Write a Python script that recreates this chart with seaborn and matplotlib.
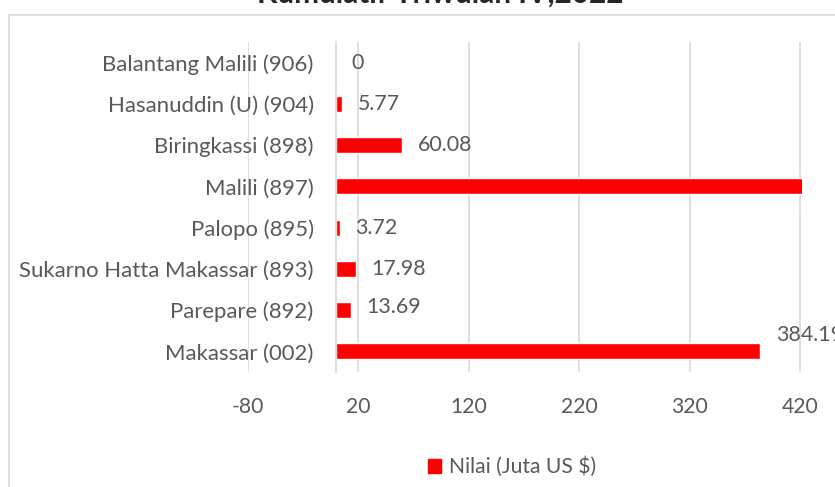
import matplotlib
matplotlib.use("Agg")
import matplotlib.pyplot as plt
import seaborn as sns
import pandas as pd
from matplotlib.patches import Patch, Rectangle

# ---- data ----
ports = ["Balantang Malili (906)", "Hasanuddin (U) (904)", "Biringkassi (898)",
         "Malili (897)", "Palopo (895)", "Sukarno Hatta Makassar (893)",
         "Parepare (892)", "Makassar (002)"]
values = [0, 5.77, 60.08, 425.0, 3.72, 17.98, 13.69, 384.19]
value_labels = ["0", "5.77", "60.08", "", "3.72", "17.98", "13.69", "384.19"]
x_ticks = [-80, 20, 120, 220, 320, 420]
title = "Kumulatif Triwulan IV,2022"
series_name = "Nilai (Juta US $)"

df = pd.DataFrame({"Pelabuhan": ports, "Nilai": values})

sns.set_theme(style="white")
FONT = ["Lato", "DejaVu Sans"]
plt.rcParams["font.family"] = FONT
plt.rcParams["axes.unicode_minus"] = False
TXT = "#595959"
GRID = "#d9d9d9"
RED = "#ff0000"

W, H = 835, 487
fig = plt.figure(figsize=(W / 100, H / 100), dpi=100)
ax = fig.add_axes([247.5 / W, 1 - 372 / H, (802 - 247.5) / W, (372 - 42) / H])

sns.barplot(data=df, y="Pelabuhan", x="Nilai", orient="h", color=RED,
            width=0.39, ax=ax, saturation=1, order=ports)

ax.set_xlim(-80, 421.8)
ax.set_xticks(x_ticks)
ax.set_xlabel("")
ax.set_ylabel("")
ax.grid(axis="x", color=GRID, lw=1.2)
ax.set_axisbelow(True)
for s in ["top", "right", "bottom"]:
    ax.spines[s].set_visible(False)
ax.spines["left"].set_position(("data", 0))
ax.spines["left"].set_color(GRID)
ax.spines["left"].set_linewidth(1.2)
ax.tick_params(axis="y", length=0, pad=16, labelsize=15.9, labelcolor=TXT)
ax.tick_params(axis="x", length=0, pad=18, labelsize=15.2, labelcolor=TXT)
for b in ax.patches:
    b.set_clip_on(True)

# data labels (vertical nudge in points, style only)
nudge = [0, 0, 0, 0, 0, 0, 2, 12]
xmax = ax.get_xlim()[1]
for i, (v, lab) in enumerate(zip(values, value_labels)):
    if v <= xmax and lab:
        ax.annotate(lab, xy=(v, i), xytext=(11, nudge[i]), textcoords="offset points",
                    ha="left", va="center", fontsize=15.4, color=TXT, annotation_clip=False)

# chart-area border (partially cropped)
fig.patches.append(Rectangle((8.5 / W, -0.1), 1.2, 1 - 14.5 / H + 0.1,
                             transform=fig.transFigure, fill=False,
                             edgecolor=GRID, lw=1.2))

fig.text(440 / W, 1 + 6 / H, title, ha="center", va="center",
         fontsize=21.4, fontweight="bold", color="#262626")

handle = Patch(facecolor=RED, edgecolor=RED, label=series_name)
fig.legend(handles=[handle], loc="center", bbox_to_anchor=(512 / W, 1 - 467 / H),
           frameon=False, fontsize=15.2, labelcolor=TXT, handlelength=0.6,
           handleheight=0.6, handletextpad=0.4)

fig.savefig("out.png", dpi=100)
